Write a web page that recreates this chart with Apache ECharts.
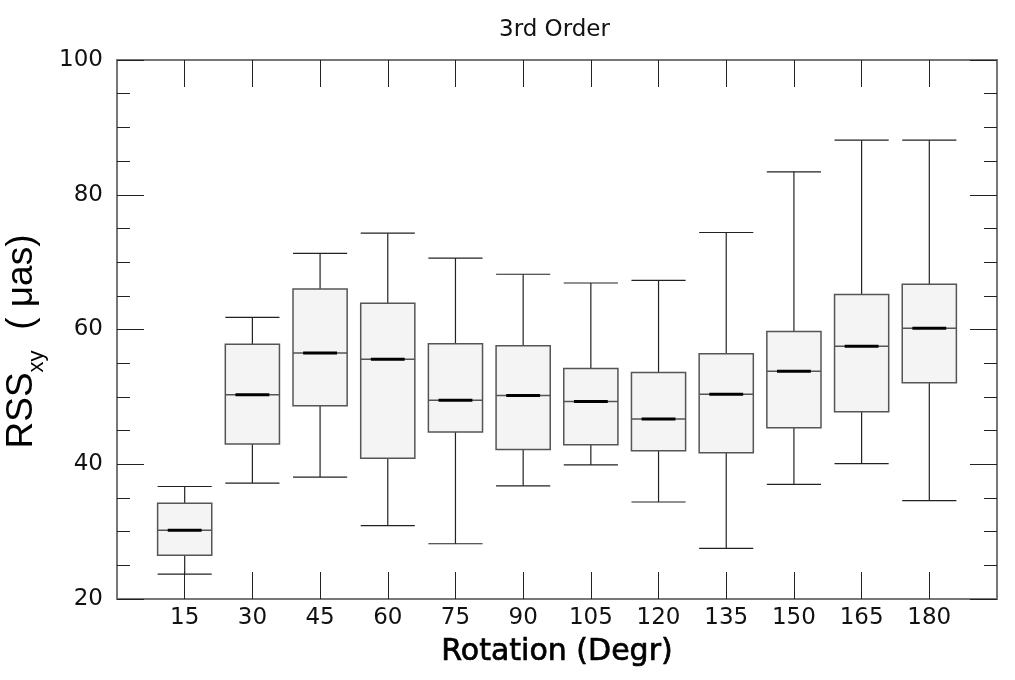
<!DOCTYPE html>
<html>
<head>
<meta charset="utf-8">
<script src="https://cdn.jsdelivr.net/npm/echarts@6/dist/echarts.min.js"></script>
<style>
  html, body { margin: 0; padding: 0; background: #fff; }
  #chart { width: 1015px; height: 680px; }
</style>
</head>
<body>
<div id="chart"></div>
<script>
// rotation angles (degrees)
var rotations = [15, 30, 45, 60, 75, 90, 105, 120, 135, 150, 165, 180];
// box plot stats
var lowWhisker  = [23.7, 37.2, 38.1, 30.9, 28.2, 36.8, 39.9, 34.4, 27.5, 37.0, 40.1, 34.6];
var q1          = [26.5, 43.0, 48.7, 40.9, 44.8, 42.2, 42.9, 42.0, 41.7, 45.4, 47.8, 52.1];
var median      = [30.2, 50.3, 56.5, 55.6, 49.5, 50.2, 49.3, 46.7, 50.4, 53.8, 57.5, 60.2];
var q3          = [34.2, 57.8, 66.0, 63.9, 57.9, 57.6, 54.2, 53.6, 56.4, 59.7, 65.2, 66.7];
var highWhisker = [36.7, 61.8, 71.3, 74.3, 70.6, 68.2, 66.9, 67.3, 74.4, 83.4, 88.1, 88.1];
var yTicks = [20, 40, 60, 80, 100];

var boxData = rotations.map(function (r, i) {
    return [r, lowWhisker[i], q1[i], median[i], q3[i], highWhisker[i]];
});

var BOX_W = 12;     // box width in x units
var MED_W = 7.5;    // thick median bar width in x units

function renderBox(params, api) {
    var x = api.value(0);
    var lo = api.coord([x, api.value(1)]);
    var b1 = api.coord([x, api.value(2)]);
    var md = api.coord([x, api.value(3)]);
    var b3 = api.coord([x, api.value(4)]);
    var hi = api.coord([x, api.value(5)]);
    var half = api.size([BOX_W, 0])[0] / 2;
    var mhalf = api.size([MED_W, 0])[0] / 2;
    var cx = lo[0];
    var wStyle = { stroke: '#222', lineWidth: 1.2 };
    return {
        type: 'group',
        children: [
            { type: 'line', shape: { x1: cx, y1: lo[1], x2: cx, y2: b1[1] }, style: wStyle },
            { type: 'line', shape: { x1: cx, y1: b3[1], x2: cx, y2: hi[1] }, style: wStyle },
            { type: 'line', shape: { x1: cx - half, y1: lo[1], x2: cx + half, y2: lo[1] }, style: wStyle },
            { type: 'line', shape: { x1: cx - half, y1: hi[1], x2: cx + half, y2: hi[1] }, style: wStyle },
            { type: 'rect', shape: { x: cx - half, y: b3[1], width: half * 2, height: b1[1] - b3[1] },
              style: { fill: '#f4f4f4', stroke: '#555', lineWidth: 1.5 } },
            { type: 'line', shape: { x1: cx - half, y1: md[1], x2: cx + half, y2: md[1] },
              style: { stroke: '#555', lineWidth: 1.5 } },
            { type: 'line', shape: { x1: cx - mhalf, y1: md[1], x2: cx + mhalf, y2: md[1] },
              style: { stroke: '#000', lineWidth: 3 } }
        ]
    };
}

var axisLineStyle = { show: true, onZero: false, lineStyle: { color: '#777', width: 2 } };
var tickStyle = { color: '#222', width: 1 };

var chart = echarts.init(document.getElementById('chart'));
chart.setOption({
    backgroundColor: '#fff',
    animation: false,
    title: {
        text: '3rd Order',
        left: 494,
        top: 14,
        textStyle: { fontFamily: 'DejaVu Sans', fontSize: 23, fontWeight: 'normal', color: '#111' }
    },
    grid: { left: 117, right: 18, top: 60, bottom: 81, outerBoundsMode: 'none' },
    xAxis: [{
        type: 'value',
        min: 0,
        max: 195,
        position: 'bottom',
        name: 'Rotation (Degr)',
        nameLocation: 'middle',
        nameGap: 38,
        nameTextStyle: { fontFamily: 'DejaVu Sans', fontSize: 30, color: '#000',
                         textBorderColor: '#000', textBorderWidth: 0.7 },
        axisLine: axisLineStyle,
        axisTick: { inside: true, length: 27, customValues: rotations, lineStyle: tickStyle },
        axisLabel: { customValues: rotations, margin: 8, fontFamily: 'DejaVu Sans', fontSize: 23, color: '#111' },
        splitLine: { show: false }
    }, {
        type: 'value',
        min: 0,
        max: 195,
        position: 'top',
        axisLine: axisLineStyle,
        axisTick: { inside: true, length: 27, customValues: rotations, lineStyle: tickStyle },
        axisLabel: { show: false },
        splitLine: { show: false }
    }],
    yAxis: [{
        type: 'value',
        min: 20,
        max: 100,
        interval: 20,
        position: 'left',
        name: '{a|RSS}{b|xy}{a|  ( μas)}',
        nameLocation: 'middle',
        nameRotate: 90,
        nameGap: 64,
        nameTextStyle: {
            padding: [0, 24, 0, 0],
            rich: {
                a: { fontFamily: 'Liberation Sans', fontSize: 37, color: '#000', lineHeight: 44, verticalAlign: 'bottom' },
                b: { fontFamily: 'Liberation Sans', fontSize: 22, color: '#000', lineHeight: 44, verticalAlign: 'bottom', padding: [0, 0, -8, 0] }
            }
        },
        axisLine: axisLineStyle,
        axisTick: { inside: true, length: 27, lineStyle: tickStyle },
        minorTick: { show: true, splitNumber: 4, length: 13, lineStyle: tickStyle },
        axisLabel: { customValues: yTicks, margin: 14, fontFamily: 'DejaVu Sans', fontSize: 23, color: '#111' },
        splitLine: { show: false }
    }, {
        type: 'value',
        min: 20,
        max: 100,
        interval: 20,
        position: 'right',
        axisLine: axisLineStyle,
        axisTick: { inside: true, length: 27, lineStyle: tickStyle },
        minorTick: { show: true, splitNumber: 4, length: 13, lineStyle: tickStyle },
        axisLabel: { show: false },
        splitLine: { show: false }
    }],
    series: [{
        type: 'custom',
        xAxisIndex: 0,
        yAxisIndex: 0,
        renderItem: renderBox,
        encode: { x: 0, y: [1, 2, 3, 4, 5] },
        data: boxData
    }]
});
</script>
</body>
</html>
